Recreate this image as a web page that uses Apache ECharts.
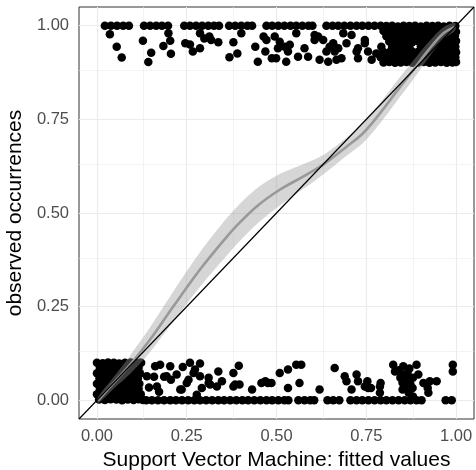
<!DOCTYPE html>
<html>
<head>
<meta charset="utf-8">
<script src="https://cdn.jsdelivr.net/npm/echarts@6.0.0/dist/echarts.min.js"></script>
<style>
  html, body { margin: 0; padding: 0; background: #ffffff; }
  #chart { width: 476px; height: 470px; }
</style>
</head>
<body>
<div id="chart"></div>
<script>
// Axis ticks and grid
const tickValues = [0, 0.25, 0.5, 0.75, 1];
const minorGrid = [0.125, 0.375, 0.625, 0.875];

// Observed = 1, jitter-free row
const topRowX = [0.022, 0.039, 0.056, 0.073, 0.089, 0.131, 0.148, 0.165, 0.181, 0.198,
  0.243, 0.259, 0.276, 0.293, 0.310, 0.326, 0.340, 0.368, 0.385, 0.402, 0.419, 0.432,
  0.472, 0.488, 0.505, 0.522, 0.539, 0.555, 0.572, 0.589, 0.600,
  0.639, 0.656, 0.672, 0.689, 0.706, 0.723, 0.739, 0.756, 0.773];

// Observed = 0, jitter-free row
const bottomRowX = [0.137, 0.153, 0.170, 0.187, 0.204, 0.220, 0.237, 0.254, 0.271, 0.287,
  0.304, 0.321, 0.338, 0.354, 0.371, 0.388, 0.405, 0.421, 0.438, 0.455, 0.472, 0.488,
  0.505, 0.522, 0.533, 0.561, 0.578, 0.594, 0.605, 0.642, 0.658, 0.675, 0.706, 0.723,
  0.739, 0.756, 0.773, 0.790, 0.806, 0.823, 0.840, 0.857, 0.873, 0.890, 0.904, 0.971, 0.988];

// Observed = 1, jittered downwards
const upperScatter = [
  [0.036, 0.977], [0.055, 0.944], [0.069, 0.915], [0.128, 0.960], [0.151, 0.928], [0.143, 0.903],
  [0.185, 0.946], [0.199, 0.980], [0.204, 0.960], [0.206, 0.925], [0.246, 0.953], [0.259, 0.950],
  [0.267, 0.931], [0.287, 0.980], [0.287, 0.940], [0.299, 0.966], [0.313, 0.971], [0.318, 0.962],
  [0.338, 0.956], [0.380, 0.956], [0.369, 0.916], [0.391, 0.926], [0.402, 0.980], [0.441, 0.944],
  [0.448, 0.904], [0.464, 0.971], [0.469, 0.931], [0.472, 0.962], [0.487, 0.913], [0.495, 0.971],
  [0.504, 0.940], [0.499, 0.913], [0.509, 0.957], [0.523, 0.944], [0.527, 0.904], [0.532, 0.931],
  [0.537, 0.949], [0.555, 0.980], [0.560, 0.917], [0.578, 0.940], [0.588, 0.917], [0.606, 0.975],
  [0.606, 0.962], [0.616, 0.971], [0.620, 0.909], [0.630, 0.962], [0.639, 0.931], [0.644, 0.904],
  [0.648, 0.944], [0.658, 0.953], [0.662, 0.931], [0.667, 0.909], [0.672, 0.940], [0.681, 0.913],
  [0.686, 0.980], [0.695, 0.953], [0.709, 0.975], [0.723, 0.931], [0.727, 0.940], [0.727, 0.913],
  [0.746, 0.953], [0.746, 0.962], [0.755, 0.931], [0.765, 0.909], [0.778, 0.926]
];

// Observed = 1, high fitted values (dense block)
const upperDense = [
  [0.790, 1.000], [0.806, 0.999], [0.822, 1.000], [0.838, 0.998], [0.854, 1.000], [0.870, 0.999], [0.886, 1.000],
  [0.902, 0.998], [0.918, 1.000], [0.934, 0.999], [0.950, 1.000], [0.966, 0.998], [0.982, 1.000], [0.998, 0.999],
  [0.798, 0.986], [0.814, 0.984], [0.830, 0.987], [0.846, 0.985], [0.862, 0.986], [0.878, 0.988], [0.894, 0.985],
  [0.910, 0.986], [0.926, 0.984], [0.942, 0.987], [0.958, 0.986], [0.974, 0.985], [0.990, 0.987], [1.000, 0.984],
  [0.806, 0.972], [0.822, 0.970], [0.838, 0.973], [0.854, 0.971], [0.870, 0.972], [0.886, 0.974], [0.902, 0.971],
  [0.918, 0.972], [0.934, 0.970], [0.950, 0.973], [0.966, 0.972], [0.982, 0.971], [0.997, 0.973],
  [0.814, 0.958], [0.830, 0.957], [0.846, 0.959], [0.862, 0.958], [0.878, 0.956], [0.894, 0.959], [0.910, 0.958],
  [0.926, 0.957], [0.942, 0.959], [0.958, 0.958], [0.974, 0.956], [0.990, 0.958], [1.000, 0.959],
  [0.792, 0.944], [0.822, 0.943], [0.838, 0.945], [0.854, 0.944], [0.870, 0.942], [0.902, 0.945],
  [0.918, 0.944], [0.934, 0.943], [0.950, 0.945], [0.966, 0.944], [0.982, 0.942], [0.998, 0.944],
  [0.798, 0.930], [0.814, 0.929], [0.830, 0.931], [0.846, 0.930], [0.862, 0.928], [0.878, 0.931], [0.894, 0.930],
  [0.910, 0.929], [0.926, 0.931], [0.942, 0.930], [0.958, 0.928], [0.974, 0.930], [0.990, 0.931], [1.000, 0.929],
  [0.790, 0.916], [0.806, 0.915], [0.822, 0.917], [0.838, 0.916], [0.854, 0.914], [0.870, 0.916], [0.886, 0.917],
  [0.902, 0.915], [0.918, 0.916], [0.934, 0.917], [0.950, 0.915], [0.966, 0.916], [0.982, 0.914], [0.998, 0.916],
  [0.798, 0.902], [0.814, 0.903], [0.830, 0.901], [0.846, 0.902], [0.862, 0.903], [0.878, 0.901], [0.894, 0.902],
  [0.910, 0.903], [0.926, 0.901], [0.942, 0.902], [0.958, 0.903], [0.974, 0.901], [0.990, 0.902], [1.000, 0.903]
];

// Observed = 0, jittered upwards
const lowerScatter = [
  [0.120, 0.100], [0.162, 0.091], [0.176, 0.095], [0.204, 0.091], [0.239, 0.089], [0.259, 0.100],
  [0.287, 0.098], [0.338, 0.077], [0.395, 0.092], [0.139, 0.064], [0.167, 0.037], [0.194, 0.064],
  [0.222, 0.069], [0.250, 0.046], [0.269, 0.073], [0.287, 0.064], [0.311, 0.060], [0.315, 0.042],
  [0.348, 0.051], [0.380, 0.073], [0.380, 0.037], [0.232, 0.029], [0.278, 0.015], [0.159, 0.063],
  [0.187, 0.063], [0.206, 0.055], [0.145, 0.034], [0.173, 0.023], [0.273, 0.082], [0.469, 0.051],
  [0.311, 0.046], [0.255, 0.055], [0.236, 0.029], [0.334, 0.037], [0.385, 0.042], [0.432, 0.029],
  [0.292, 0.033], [0.397, 0.042], [0.458, 0.046], [0.476, 0.046], [0.509, 0.073], [0.532, 0.082],
  [0.555, 0.095], [0.569, 0.095], [0.564, 0.046], [0.532, 0.033], [0.620, 0.029], [0.662, 0.086],
  [0.690, 0.064], [0.695, 0.051], [0.709, 0.029], [0.723, 0.069], [0.727, 0.051], [0.746, 0.037],
  [0.755, 0.033], [0.788, 0.037], [0.788, 0.020], [0.825, 0.095], [0.830, 0.077], [0.853, 0.091],
  [0.865, 0.073], [0.890, 0.095], [0.854, 0.069], [0.862, 0.055], [0.873, 0.042], [0.851, 0.047],
  [0.895, 0.069], [0.909, 0.046], [0.927, 0.051], [0.946, 0.051], [0.923, 0.020], [0.879, 0.033],
  [0.921, 0.033], [0.851, 0.029], [0.991, 0.095], [0.991, 0.077], [0.486, 0.046], [0.790, 0.046],
  [0.763, 0.033], [0.753, 0.051], [0.840, 0.080], [0.870, 0.085], [0.880, 0.060], [0.845, 0.060],
  [0.860, 0.040], [0.868, 0.020], [0.880, 0.010]
];

// Observed = 0, low fitted values (dense block)
const lowerDense = [
  [0.000, 0.100], [0.016, 0.099], [0.031, 0.101], [0.047, 0.100], [0.062, 0.098], [0.078, 0.100], [0.094, 0.101], [0.109, 0.099], [0.123, 0.100],
  [0.008, 0.086], [0.024, 0.087], [0.039, 0.085], [0.054, 0.086], [0.070, 0.088], [0.086, 0.086], [0.101, 0.085], [0.116, 0.087],
  [0.000, 0.072], [0.015, 0.073], [0.030, 0.071], [0.045, 0.072], [0.060, 0.074], [0.076, 0.072], [0.092, 0.071], [0.106, 0.073], [0.120, 0.072],
  [0.007, 0.058], [0.023, 0.059], [0.038, 0.057], [0.054, 0.058], [0.070, 0.060], [0.086, 0.058], [0.101, 0.057], [0.114, 0.059],
  [0.000, 0.044], [0.014, 0.045], [0.029, 0.043], [0.044, 0.044], [0.059, 0.046], [0.074, 0.044], [0.090, 0.043], [0.105, 0.045], [0.118, 0.044],
  [0.008, 0.030], [0.024, 0.031], [0.039, 0.029], [0.055, 0.030], [0.071, 0.032], [0.087, 0.030], [0.102, 0.029], [0.116, 0.031],
  [0.000, 0.016], [0.015, 0.017], [0.030, 0.015], [0.045, 0.016], [0.061, 0.018], [0.077, 0.016], [0.093, 0.015], [0.108, 0.017], [0.122, 0.016],
  [0.006, 0.002], [0.022, 0.001], [0.038, 0.003], [0.054, 0.002], [0.070, 0.000], [0.086, 0.002], [0.102, 0.001], [0.116, 0.003], [0.128, 0.001]
];

// Smoothed calibration curve with its confidence band
const smoothX     = [0.003, 0.050, 0.095, 0.148, 0.213, 0.287, 0.362, 0.388, 0.444, 0.509, 0.574, 0.630, 0.695, 0.741, 0.788, 0.834, 0.881, 0.923, 0.965, 0.997];
const smoothY     = [0.000, 0.050, 0.098, 0.162, 0.251, 0.349, 0.437, 0.465, 0.517, 0.562, 0.597, 0.629, 0.677, 0.713, 0.766, 0.824, 0.882, 0.935, 0.980, 0.997];
const smoothLower = [-0.008, 0.034, 0.073, 0.129, 0.211, 0.303, 0.387, 0.415, 0.469, 0.520, 0.564, 0.603, 0.653, 0.687, 0.739, 0.797, 0.857, 0.914, 0.964, 0.987];
const smoothUpper = [0.008, 0.066, 0.123, 0.195, 0.291, 0.395, 0.487, 0.515, 0.565, 0.604, 0.630, 0.655, 0.701, 0.739, 0.793, 0.851, 0.907, 0.956, 0.996, 1.007];

const axisLimits = [-0.05, 1.05];

const points = [].concat(
  topRowX.map(x => [x, 1]),
  bottomRowX.map(x => [x, 0]),
  upperScatter, upperDense, lowerScatter, lowerDense
);

const FONT = 'Liberation Sans, Arial, Helvetica, sans-serif';
const gridColor = '#ebebeb';

const gridLines = [].concat(
  tickValues.map(v => ({ xAxis: v, lineStyle: { width: 1.1 } })),
  tickValues.map(v => ({ yAxis: v, lineStyle: { width: 1.1 } })),
  minorGrid.map(v => ({ xAxis: v, lineStyle: { width: 0.6 } })),
  minorGrid.map(v => ({ yAxis: v, lineStyle: { width: 0.6 } }))
);

function makeAxis(name, isY) {
  return {
    type: 'value',
    min: axisLimits[0],
    max: axisLimits[1],
    axisLine: { show: false },
    splitLine: { show: false },
    axisTick: { show: true, customValues: tickValues, length: 4, lineStyle: { color: '#333333', width: 1 } },
    axisLabel: {
      customValues: tickValues,
      formatter: v => v.toFixed(2),
      color: '#4d4d4d',
      fontSize: 16.5,
      fontFamily: FONT,
      margin: isY ? 10 : 8.5
    },
    name: name,
    nameLocation: 'middle',
    nameGap: isY ? 43 : 27.5,
    nameRotate: isY ? 90 : 0,
    nameTextStyle: { color: '#000000', fontSize: 21, fontFamily: FONT }
  };
}

// Confidence band as a closed, smoothed outline: upper edge forward, lower edge back
function renderBand(params, api) {
  const outline = [];
  for (let i = 0; i < smoothX.length; i++) {
    outline.push(api.coord([smoothX[i], smoothUpper[i]]));
  }
  for (let i = smoothX.length - 1; i >= 0; i--) {
    outline.push(api.coord([smoothX[i], smoothLower[i]]));
  }
  return {
    type: 'polygon',
    shape: { points: outline, smooth: 0.3 },
    style: { fill: 'rgba(153,153,153,0.4)', stroke: null }
  };
}

const chart = echarts.init(document.getElementById('chart'), null, { renderer: 'canvas' });
chart.setOption({
  animation: false,
  backgroundColor: '#ffffff',
  grid: {
    left: 79, top: 7, width: 395, height: 412,
    show: true, borderColor: '#333333', borderWidth: 1, backgroundColor: 'transparent',
    containLabel: false, outerBoundsMode: 'none'
  },
  xAxis: makeAxis('Support Vector Machine: fitted values', false),
  yAxis: makeAxis('observed occurrences', true),
  series: [
    {
      name: 'grid',
      type: 'line',
      data: [],
      silent: true,
      z: 1,
      markLine: {
        silent: true,
        z: 1,
        symbol: ['none', 'none'],
        label: { show: false },
        emphasis: { disabled: true },
        lineStyle: { color: gridColor, type: 'solid' },
        data: gridLines
      }
    },
    {
      name: 'points',
      type: 'scatter',
      z: 2,
      symbol: 'circle',
      symbolSize: 8.5,
      itemStyle: { color: '#000000', opacity: 1 },
      silent: true,
      data: points
    },
    {
      name: 'band',
      type: 'custom',
      z: 3,
      silent: true,
      data: [[0.5, 0.5]],
      renderItem: renderBand
    },
    {
      name: 'smooth',
      type: 'line',
      z: 4,
      smooth: 0.35,
      symbol: 'none',
      silent: true,
      lineStyle: { color: '#999999', width: 2.6 },
      data: smoothX.map((x, i) => [x, smoothY[i]])
    },
    {
      name: 'identity',
      type: 'line',
      z: 5,
      symbol: 'none',
      silent: true,
      lineStyle: { color: '#000000', width: 1.2 },
      data: [[axisLimits[0], axisLimits[0]], [axisLimits[1], axisLimits[1]]]
    }
  ]
});
</script>
</body>
</html>
